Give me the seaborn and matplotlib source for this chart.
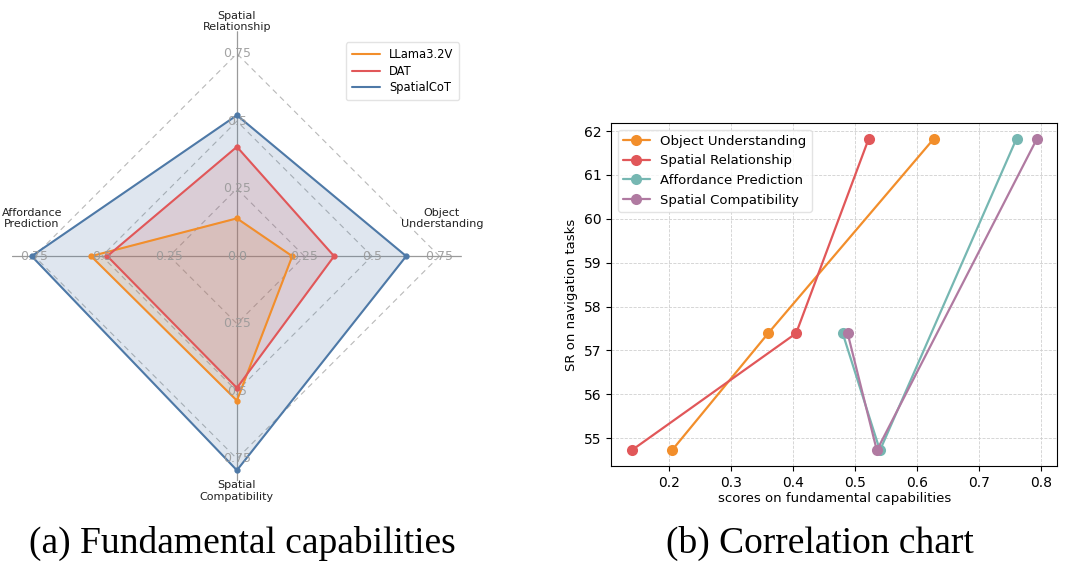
import numpy as np
import pandas as pd
import matplotlib
matplotlib.use("Agg")
import matplotlib.pyplot as plt
import seaborn as sns

# ---------------- data ----------------
capabilities = ["Object Understanding", "Spatial Relationship",
                "Affordance Prediction", "Spatial Compatibility"]
radar_labels = ["Object\nUnderstanding", "Spatial\nRelationship",
                "Affordance\nPrediction", "Spatial\nCompatibility"]
models = ["LLama3.2V", "DAT", "SpatialCoT"]
llama_scores = [0.205, 0.14, 0.54, 0.535]
dat_scores = [0.36, 0.405, 0.48, 0.488]
spatialcot_scores = [0.627, 0.522, 0.76, 0.793]
nav_sr = [54.72, 57.39, 61.83]          # SR on navigation tasks per model
radar_ticks = [0.25, 0.5, 0.75]

model_colors = ["#F28E2B", "#E15759", "#4E79A7"]
cap_colors = ["#F28E2B", "#E15759", "#76B7B2", "#B07AA1"]

sns.set_theme(style="white")
plt.rcParams["font.family"] = ["DejaVu Sans"]
plt.rcParams["text.color"] = "black"
plt.rcParams["axes.labelcolor"] = "black"
plt.rcParams["xtick.color"] = "black"
plt.rcParams["ytick.color"] = "black"

fig = plt.figure(figsize=(10.8, 5.68), dpi=100)

# ---------------- (a) radar ----------------
axr = fig.add_axes([0.011, 0.153, 0.4167, 0.792], projection="polar")
angles = np.deg2rad([0, 90, 180, 270])
rmax = 0.833
axr.set_ylim(0, rmax)
axr.grid(False)
axr.spines["polar"].set_visible(False)
axr.set_xticks([])
axr.set_yticks([])
axr.set_facecolor("none")

ang_closed = np.append(angles, angles[0])
# polygon grid
for t in radar_ticks:
    axr.plot(ang_closed, [t] * 5, ls=(0, (5, 4)), color="#b8b8b8", lw=0.8, zorder=1)
# spokes
for a in angles:
    axr.plot([a, a], [0, rmax], color="#9a9a9a", lw=0.9, zorder=1)

series = [llama_scores, dat_scores, spatialcot_scores]
for name, vals, col in zip(models, series, model_colors):
    v = np.append(vals, vals[0])
    axr.fill(ang_closed, v, color=col, alpha=0.18, zorder=2)
    axr.plot(ang_closed, v, color=col, lw=1.5, label=name, zorder=3)
    axr.plot(angles, vals, "o", color=col, ms=3.5, zorder=4)

# radial tick labels on each spoke
axr.text(0, 0, "0.0", color="#999999", fontsize=9, ha="center", va="center", zorder=5)
for a in angles:
    for t in radar_ticks:
        axr.text(a, t, f"{t:g}", color="#999999", fontsize=9, ha="center",
                 va="center", alpha=0.9, zorder=5)

# category labels
label_pos = [(np.deg2rad(10.5), 0.772), (np.deg2rad(90), 0.868),
             (np.deg2rad(169.5), 0.772), (np.deg2rad(270), 0.87)]
for lab, (a, r) in zip(radar_labels, label_pos):
    axr.text(a, r, lab, fontsize=8, ha="center", va="center", color="#222222",
             linespacing=1.15)

leg = axr.legend(loc="upper left", bbox_to_anchor=(0.73, 0.988), fontsize=8.3,
                 frameon=True, handlelength=2.4, borderpad=0.5, labelspacing=0.3)
leg.get_frame().set_edgecolor("#dddddd")

# ---------------- (b) correlation chart ----------------
axc = fig.add_axes([0.566, 0.1796, 0.413, 0.6039])
rows = []
for cap_i, cap in enumerate(capabilities):
    for m_i, m in enumerate(models):
        rows.append({"capability": cap,
                     "score": series[m_i][cap_i],
                     "sr": nav_sr[m_i]})
df = pd.DataFrame(rows)
sns.lineplot(data=df, x="score", y="sr", hue="capability", hue_order=capabilities,
             palette=cap_colors, marker="o", markersize=8, markeredgewidth=0,
             sort=True, estimator=None, lw=1.6, ax=axc)
axc.set_xlabel("scores on fundamental capabilities", fontsize=9.5, labelpad=2)
axc.set_ylabel("SR on navigation tasks", fontsize=9.5, labelpad=4)
axc.tick_params(axis="both", labelsize=10, length=3.5, width=0.8, color="black",
                left=True, bottom=True)
axc.set_xticks([0.2, 0.3, 0.4, 0.5, 0.6, 0.7, 0.8])
axc.set_yticks([55, 56, 57, 58, 59, 60, 61, 62])
axc.grid(True, ls="--", color="#d0d0d0", lw=0.6)
for s in axc.spines.values():
    s.set_color("black")
    s.set_linewidth(0.8)
leg2 = axc.legend(loc="upper left", fontsize=9.5, frameon=True, handlelength=2,
                  borderpad=0.4, labelspacing=0.5)
leg2.get_frame().set_edgecolor("#dddddd")

# ---------------- captions ----------------
fig.text(0.224, 0.044, "(a) Fundamental capabilities", family="Liberation Serif",
         fontsize=27, ha="center", va="center", color="black")
fig.text(0.759, 0.044, "(b) Correlation chart", family="Liberation Serif",
         fontsize=27, ha="center", va="center", color="black")

fig.savefig("out.png", dpi=100)
